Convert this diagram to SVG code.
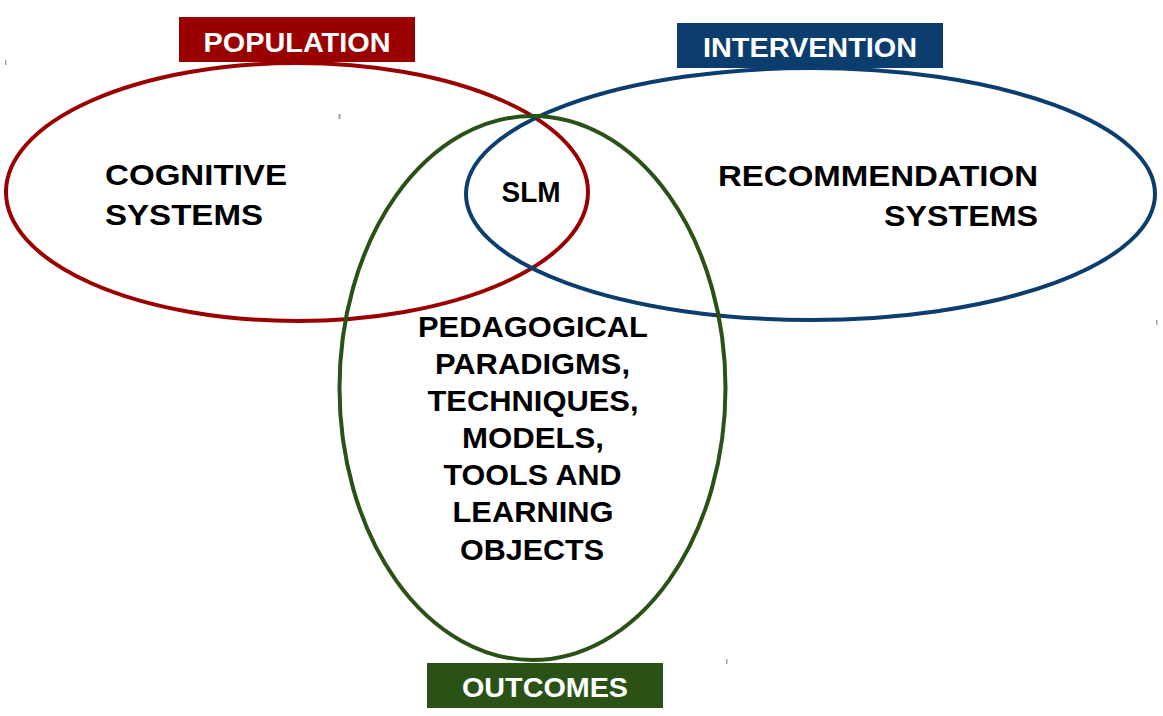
<svg xmlns="http://www.w3.org/2000/svg" width="1163" height="716" viewBox="0 0 1163 716">
<style>
.ring{fill:none;stroke-width:4}
.t{font-family:"Liberation Sans",Arial,sans-serif;font-weight:bold;font-size:30px;fill:#000}
.lbl{font-family:"Liberation Sans",Arial,sans-serif;font-weight:bold;font-size:27px;fill:#fff;text-anchor:middle}
.tick{fill:#9aa89a}
</style>
<rect width="1163" height="716" fill="#fff"/>
<g id="population">
<ellipse class="ring" cx="297" cy="192" rx="291" ry="129" stroke="#9a0000"/>
<rect x="179" y="17" width="236" height="45" fill="#9a0000"/>
<text class="lbl" x="297" y="52" textLength="187" lengthAdjust="spacingAndGlyphs">POPULATION</text>
<text class="t" x="105" y="185" textLength="182" lengthAdjust="spacingAndGlyphs">COGNITIVE</text>
<text class="t" x="105" y="225" textLength="158" lengthAdjust="spacingAndGlyphs">SYSTEMS</text>
</g>
<g id="intervention">
<ellipse class="ring" cx="810.5" cy="194" rx="344.5" ry="126" stroke="#0b3d6e"/>
<rect x="677" y="23" width="266" height="45" fill="#0b3d6e"/>
<text class="lbl" x="810" y="57" textLength="214" lengthAdjust="spacingAndGlyphs">INTERVENTION</text>
<text class="t" x="718" y="186" textLength="320" lengthAdjust="spacingAndGlyphs">RECOMMENDATION</text>
<text class="t" x="884" y="226" textLength="154" lengthAdjust="spacingAndGlyphs">SYSTEMS</text>
</g>
<g id="outcomes">
<ellipse class="ring" cx="532.5" cy="388" rx="193" ry="272" stroke="#2b5216"/>
<rect x="427" y="663" width="236" height="45" fill="#2b5216"/>
<text class="lbl" x="545" y="697" textLength="166" lengthAdjust="spacingAndGlyphs">OUTCOMES</text>
<g class="t" text-anchor="middle">
<text x="533" y="337" textLength="230" lengthAdjust="spacingAndGlyphs">PEDAGOGICAL</text>
<text x="532.5" y="374" textLength="195" lengthAdjust="spacingAndGlyphs">PARADIGMS,</text>
<text x="533" y="411" textLength="211" lengthAdjust="spacingAndGlyphs">TECHNIQUES,</text>
<text x="533" y="448" textLength="142" lengthAdjust="spacingAndGlyphs">MODELS,</text>
<text x="532.5" y="485" textLength="178" lengthAdjust="spacingAndGlyphs">TOOLS AND</text>
<text x="533" y="522" textLength="161" lengthAdjust="spacingAndGlyphs">LEARNING</text>
<text x="532" y="560" textLength="144" lengthAdjust="spacingAndGlyphs">OBJECTS</text>
</g>
</g>
<g id="slm">
<text class="t" x="531" y="202" font-size="27" text-anchor="middle" textLength="59" lengthAdjust="spacingAndGlyphs">SLM</text>
</g>
<g id="connectors"></g>
<g id="ticks">
<rect class="tick" x="5" y="60" width="1.5" height="5"/>
<rect class="tick" x="338.5" y="114" width="2" height="5"/>
<rect class="tick" x="726" y="659" width="1.5" height="5"/>
<rect class="tick" x="1156" y="320" width="1.5" height="5"/>
</g>
</svg>
